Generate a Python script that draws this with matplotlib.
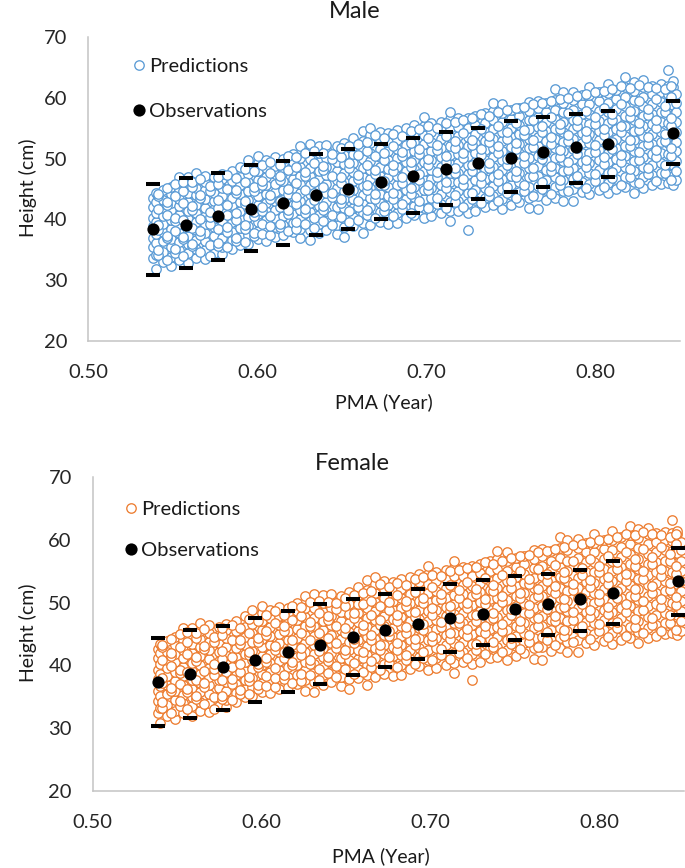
import matplotlib
matplotlib.use("Agg")
import matplotlib.pyplot as plt

plt.rcParams['font.family'] = ['Lato', 'DejaVu Sans']

WEEKS = [28, 29, 30, 31, 32, 33, 34, 35, 36, 37, 38, 39, 40, 41, 42, 44]
obs_x = [w / 52 for w in WEEKS]

male_mean = [38.4, 39.0, 40.6, 41.7, 42.7, 44.0, 45.0, 46.2, 47.2, 48.3, 49.3, 50.1, 51.1, 51.9, 52.4, 54.2]
male_upper = [45.8, 46.8, 47.7, 49.0, 49.6, 50.8, 51.6, 52.4, 53.4, 54.4, 55.1, 56.2, 56.9, 57.4, 57.9, 59.4]
male_lower = [30.9, 32.0, 33.4, 34.8, 35.8, 37.4, 38.5, 40.0, 41.0, 42.4, 43.3, 44.5, 45.3, 46.0, 46.9, 49.1]

female_mean = [37.4, 38.6, 39.7, 40.9, 42.2, 43.2, 44.6, 45.6, 46.6, 47.6, 48.2, 49.0, 49.8, 50.5, 51.6, 53.4]
female_upper = [44.4, 45.6, 46.3, 47.5, 48.6, 49.8, 50.6, 51.4, 52.2, 53.0, 53.6, 54.2, 54.6, 55.2, 56.6, 58.7]
female_lower = [30.3, 31.6, 32.9, 34.2, 35.7, 37.0, 38.5, 39.8, 41.0, 42.2, 43.2, 44.1, 44.9, 45.5, 46.6, 48.0]

col_x = [0.5385, 0.5400, 0.5440, 0.5490, 0.5535, 0.5590, 0.5635, 0.5690, 0.5745, 0.5790, 0.5850, 0.5900,
         0.5945, 0.6005, 0.6050, 0.6105, 0.6155, 0.6210, 0.6255, 0.6310, 0.6365, 0.6410, 0.6470, 0.6515,
         0.6570, 0.6625, 0.6670, 0.6725, 0.6775, 0.6825, 0.6880, 0.6930, 0.6985, 0.7030, 0.7090, 0.7140,
         0.7190, 0.7245, 0.7290, 0.7350, 0.7395, 0.7450, 0.7505, 0.7550, 0.7610, 0.7660, 0.7710, 0.7765,
         0.7810, 0.7870, 0.7920, 0.7965, 0.8025, 0.8075, 0.8125, 0.8180, 0.8230, 0.8285, 0.8335, 0.8390,
         0.8430, 0.8460, 0.8480]

male_col_y = [
    [33.6, 35.4, 37.0, 38.9, 40.3, 42.1, 43.5],
    [31.9, 34.2, 36.1, 37.6, 39.6, 41.1, 42.9, 44.3],
    [33.0, 34.7, 36.4, 37.9, 39.2, 40.6, 41.8, 43.2, 44.8],
    [32.3, 33.8, 35.5, 36.8, 38.5, 39.9, 41.5, 42.7, 44.1, 45.4],
    [33.4, 35.0, 36.3, 37.7, 39.3, 40.7, 42.2, 43.4, 45.0, 47.0],
    [32.9, 34.4, 35.9, 37.2, 38.7, 40.1, 41.3, 42.9, 44.3, 45.8, 46.9],
    [33.7, 35.2, 36.6, 38.2, 39.6, 41.0, 42.4, 44.0, 45.1, 46.4, 47.6],
    [33.5, 34.9, 36.4, 37.8, 39.2, 40.5, 41.9, 43.3, 44.8, 46.1, 47.2],
    [34.5, 36.0, 37.3, 38.7, 40.2, 41.7, 43.0, 44.4, 45.7, 47.0],
    [34.3, 35.4, 36.9, 38.4, 39.8, 41.2, 42.6, 43.9, 45.2, 46.6, 47.5],
    [35.1, 36.6, 38.0, 39.5, 40.8, 42.3, 43.6, 45.0, 46.3, 47.9],
    [35.8, 37.1, 38.6, 40.0, 41.4, 42.8, 44.2, 45.6, 47.0, 48.7],
    [36.0, 37.5, 38.9, 40.4, 41.9, 43.2, 44.7, 46.1, 47.5, 49.8],
    [36.8, 38.1, 39.5, 40.9, 42.4, 43.8, 45.1, 46.5, 47.9, 49.2, 50.4],
    [36.5, 38.4, 39.9, 41.3, 42.7, 44.2, 45.6, 47.0, 48.4, 49.7],
    [37.1, 38.7, 40.2, 41.6, 43.0, 44.5, 45.9, 47.4, 48.8, 50.2],
    [37.5, 39.0, 40.6, 42.0, 43.4, 44.9, 46.3, 47.8, 49.2, 50.0],
    [37.9, 39.4, 40.9, 42.3, 43.8, 45.2, 46.7, 48.1, 49.5, 50.8],
    [36.9, 38.5, 40.1, 41.5, 43.0, 44.4, 45.8, 47.2, 48.6, 50.1, 52.0],
    [36.6, 38.2, 39.8, 41.2, 42.7, 44.1, 45.6, 47.1, 48.5, 50.0, 51.4, 52.4],
    [37.7, 39.3, 40.7, 42.2, 43.6, 45.0, 46.6, 48.0, 49.4, 50.9, 52.1],
    [38.3, 39.9, 41.4, 42.9, 44.4, 45.8, 47.3, 48.7, 50.1, 51.5, 52.3],
    [37.6, 39.1, 40.6, 42.1, 43.5, 45.1, 46.5, 47.9, 49.4, 50.8, 52.0],
    [37.1, 38.8, 40.3, 41.8, 43.3, 44.7, 46.2, 47.6, 49.1, 50.6, 52.6],
    [38.9, 40.4, 41.9, 43.4, 44.9, 46.3, 47.8, 49.3, 50.7, 52.1, 53.4],
    [37.8, 39.4, 41.0, 42.5, 44.0, 45.5, 47.0, 48.5, 50.0, 51.4, 52.9, 54.5],
    [39.0, 40.6, 42.1, 43.6, 45.1, 46.6, 48.1, 49.6, 51.0, 52.5, 53.9, 55.0],
    [39.6, 41.2, 42.7, 44.2, 45.7, 47.2, 48.7, 50.2, 51.6, 53.0, 54.3],
    [39.2, 40.9, 42.4, 43.9, 45.4, 46.9, 48.3, 49.8, 51.2, 52.7, 54.2],
    [39.4, 41.0, 42.6, 44.1, 45.6, 47.1, 48.6, 50.1, 51.6, 53.1, 54.7],
    [40.3, 41.9, 43.4, 44.9, 46.4, 47.9, 49.4, 50.9, 52.3, 53.8, 55.0],
    [40.8, 42.2, 43.7, 45.3, 46.8, 48.3, 49.7, 51.2, 52.7, 54.2, 55.5],
    [40.2, 41.8, 43.3, 44.9, 46.4, 47.9, 49.5, 51.0, 52.4, 53.9, 55.4, 56.8],
    [40.5, 42.1, 43.6, 45.2, 46.7, 48.2, 49.8, 51.3, 52.8, 54.3, 55.8],
    [41.0, 42.6, 44.1, 45.7, 47.2, 48.7, 50.2, 51.7, 53.2, 54.7, 56.1],
    [39.7, 41.3, 42.9, 44.5, 46.1, 47.6, 49.1, 50.6, 52.1, 53.6, 55.1, 56.5, 57.7],
    [41.4, 43.0, 44.6, 46.1, 47.6, 49.2, 50.7, 52.2, 53.7, 55.2, 56.6],
    [38.3, 41.1, 42.7, 44.3, 45.9, 47.4, 49.0, 50.5, 52.0, 53.6, 55.1, 56.7],
    [41.4, 43.2, 44.9, 46.4, 48.0, 49.5, 51.0, 52.6, 54.1, 55.6, 57.0],
    [42.0, 43.6, 45.1, 46.7, 48.3, 49.8, 51.4, 52.9, 54.4, 55.9, 57.5],
    [42.3, 43.9, 45.5, 47.0, 48.6, 50.2, 51.7, 53.2, 54.8, 56.3, 57.9, 59.1],
    [41.7, 43.4, 45.0, 46.6, 48.2, 49.8, 51.3, 52.9, 54.4, 56.0, 57.5, 58.9],
    [42.4, 44.0, 45.6, 47.2, 48.8, 50.4, 51.9, 53.5, 55.0, 56.5, 58.0],
    [42.9, 44.5, 46.1, 47.7, 49.3, 50.9, 52.4, 54.0, 55.5, 57.0, 58.4],
    [41.9, 43.6, 45.3, 46.9, 48.5, 50.1, 51.7, 53.3, 54.8, 56.4, 57.9, 59.3],
    [41.7, 43.8, 45.5, 47.2, 48.8, 50.4, 52.0, 53.6, 55.2, 56.8, 58.3, 59.4],
    [43.2, 44.9, 46.5, 48.1, 49.7, 51.3, 52.9, 54.5, 56.0, 57.6, 59.1],
    [43.6, 45.3, 46.9, 48.5, 50.1, 51.7, 53.3, 54.9, 56.5, 58.0, 59.6, 61.4],
    [43.0, 44.7, 46.4, 48.0, 49.6, 51.2, 52.8, 54.4, 56.0, 57.6, 59.2, 60.9],
    [43.1, 45.0, 46.7, 48.4, 50.0, 51.6, 53.2, 54.8, 56.4, 58.0, 59.6, 61.0],
    [44.5, 46.1, 47.8, 49.4, 51.0, 52.6, 54.2, 55.8, 57.4, 59.0, 60.4],
    [44.2, 45.9, 47.6, 49.2, 50.9, 52.5, 54.1, 55.7, 57.3, 58.9, 60.4, 61.8],
    [44.8, 46.5, 48.2, 49.8, 51.4, 53.0, 54.6, 56.2, 57.8, 59.4, 60.9],
    [44.3, 46.0, 47.7, 49.4, 51.0, 52.7, 54.3, 55.9, 57.6, 59.2, 60.8, 62.3],
    [45.0, 46.7, 48.4, 50.0, 51.7, 53.3, 54.9, 56.5, 58.2, 59.8, 61.3],
    [45.3, 47.0, 48.7, 50.4, 52.0, 53.7, 55.3, 57.0, 58.6, 60.2, 61.7, 63.4],
    [44.4, 46.2, 47.9, 49.6, 51.3, 53.0, 54.6, 56.3, 57.9, 59.6, 61.2, 62.6],
    [45.2, 46.9, 48.6, 50.3, 52.0, 53.7, 55.3, 57.0, 58.6, 60.2, 61.8, 63.0],
    [45.6, 47.3, 49.0, 50.7, 52.4, 54.0, 55.7, 57.3, 59.0, 60.6, 62.0],
    [45.9, 47.6, 49.3, 51.0, 52.7, 54.3, 56.0, 57.6, 59.3, 60.9, 62.2],
    [46.0, 47.4, 49.1, 50.8, 52.5, 54.2, 55.8, 57.5, 59.1, 60.7, 62.0, 64.6],
    [45.7, 47.2, 48.9, 50.6, 52.3, 53.9, 55.6, 57.2, 58.8, 60.4, 61.8, 62.7],
    [46.4, 48.0, 49.6, 51.2, 52.8, 54.4, 56.0, 57.6, 59.2, 60.6],
]

female_col_y = [
    [32.5, 34.3, 36.0, 37.9, 39.3, 41.1, 42.6],
    [30.9, 33.2, 35.1, 36.7, 38.6, 40.2, 41.9, 43.4],
    [32.0, 33.7, 35.4, 36.9, 38.3, 39.6, 40.9, 42.2, 43.9],
    [31.4, 32.8, 34.5, 35.9, 37.5, 39.0, 40.5, 41.8, 43.2, 44.5],
    [32.4, 34.0, 35.3, 36.8, 38.3, 39.8, 41.2, 42.5, 44.1, 45.9],
    [31.9, 33.5, 34.9, 36.3, 37.7, 39.1, 40.4, 41.9, 43.4, 44.8, 46.0],
    [32.8, 34.2, 35.7, 37.2, 38.7, 40.0, 41.5, 43.0, 44.2, 45.5, 46.7],
    [32.6, 34.0, 35.4, 36.9, 38.2, 39.6, 41.0, 42.4, 43.8, 45.2, 46.4],
    [33.5, 35.1, 36.4, 37.7, 39.3, 40.7, 42.1, 43.5, 44.8, 46.1],
    [33.4, 34.5, 36.0, 37.4, 38.9, 40.3, 41.6, 43.0, 44.3, 45.6, 46.6],
    [34.2, 35.6, 37.1, 38.5, 39.9, 41.4, 42.7, 44.1, 45.4, 47.0],
    [34.9, 36.2, 37.6, 39.1, 40.5, 41.8, 43.3, 44.6, 46.1, 47.8],
    [35.1, 36.6, 38.0, 39.5, 40.9, 42.3, 43.8, 45.2, 46.6, 48.9],
    [35.8, 37.2, 38.6, 40.0, 41.5, 42.9, 44.2, 45.6, 47.0, 48.3, 49.5],
    [35.6, 37.4, 39.0, 40.4, 41.8, 43.3, 44.7, 46.1, 47.5, 48.8],
    [36.2, 37.8, 39.3, 40.7, 42.1, 43.6, 45.0, 46.5, 47.9, 49.3],
    [36.6, 38.1, 39.7, 41.1, 42.5, 44.0, 45.4, 46.9, 48.3, 49.1],
    [37.0, 38.5, 40.0, 41.4, 42.9, 44.3, 45.8, 47.2, 48.6, 49.9],
    [36.0, 37.6, 39.2, 40.6, 42.1, 43.5, 44.9, 46.3, 47.7, 49.2, 51.1],
    [35.7, 37.3, 38.9, 40.3, 41.8, 43.2, 44.7, 46.2, 47.6, 49.1, 50.5, 51.4],
    [36.8, 38.4, 39.8, 41.3, 42.7, 44.1, 45.7, 47.1, 48.5, 50.0, 51.2],
    [37.4, 39.0, 40.5, 42.0, 43.5, 44.9, 46.4, 47.8, 49.2, 50.6, 51.4],
    [36.7, 38.2, 39.7, 41.2, 42.6, 44.2, 45.6, 47.0, 48.5, 49.9, 51.1],
    [36.2, 37.9, 39.4, 40.9, 42.4, 43.8, 45.3, 46.7, 48.2, 49.7, 51.7],
    [38.0, 39.5, 41.0, 42.5, 44.0, 45.4, 46.9, 48.4, 49.8, 51.2, 52.5],
    [36.9, 38.5, 40.1, 41.6, 43.1, 44.6, 46.1, 47.6, 49.1, 50.5, 52.0, 53.6],
    [38.1, 39.7, 41.2, 42.7, 44.2, 45.7, 47.2, 48.7, 50.1, 51.6, 53.0, 54.0],
    [38.7, 40.3, 41.8, 43.3, 44.8, 46.3, 47.8, 49.3, 50.7, 52.1, 53.4],
    [38.3, 40.0, 41.5, 43.0, 44.5, 46.0, 47.4, 48.9, 50.3, 51.8, 53.3],
    [38.5, 40.1, 41.7, 43.2, 44.7, 46.2, 47.7, 49.2, 50.7, 52.2, 53.8],
    [39.4, 41.0, 42.5, 44.0, 45.5, 47.0, 48.5, 50.0, 51.4, 52.9, 54.1],
    [39.9, 41.3, 42.8, 44.4, 45.9, 47.4, 48.8, 50.3, 51.8, 53.3, 54.6],
    [39.3, 40.9, 42.4, 44.0, 45.5, 47.0, 48.6, 50.1, 51.5, 53.0, 54.5, 55.9],
    [39.6, 41.2, 42.7, 44.3, 45.8, 47.3, 48.9, 50.4, 51.9, 53.4, 54.9],
    [40.1, 41.7, 43.2, 44.8, 46.3, 47.8, 49.3, 50.8, 52.3, 53.8, 55.2],
    [38.8, 40.4, 42.0, 43.6, 45.2, 46.7, 48.2, 49.7, 51.2, 52.7, 54.2, 55.6, 56.7],
    [40.5, 42.1, 43.7, 45.2, 46.7, 48.3, 49.8, 51.3, 52.8, 54.3, 55.6],
    [37.7, 40.2, 41.8, 43.4, 45.0, 46.5, 48.1, 49.6, 51.1, 52.7, 54.2, 55.8],
    [40.5, 42.3, 44.0, 45.5, 47.1, 48.6, 50.1, 51.7, 53.2, 54.7, 56.1],
    [41.1, 42.7, 44.2, 45.8, 47.4, 48.9, 50.5, 52.0, 53.5, 55.0, 56.6],
    [41.4, 43.0, 44.6, 46.1, 47.7, 49.3, 50.8, 52.3, 53.9, 55.4, 57.0, 58.2],
    [40.8, 42.5, 44.1, 45.7, 47.3, 48.9, 50.4, 52.0, 53.5, 55.1, 56.6, 58.0],
    [41.5, 43.1, 44.7, 46.3, 47.9, 49.5, 51.0, 52.6, 54.1, 55.6, 57.1],
    [42.0, 43.6, 45.2, 46.8, 48.4, 50.0, 51.5, 53.1, 54.6, 56.1, 57.5],
    [41.0, 42.7, 44.4, 46.0, 47.6, 49.2, 50.8, 52.4, 53.9, 55.5, 57.0, 58.4],
    [40.8, 42.9, 44.6, 46.3, 47.9, 49.5, 51.1, 52.7, 54.3, 55.9, 57.4, 58.5],
    [42.3, 44.0, 45.6, 47.2, 48.8, 50.4, 52.0, 53.6, 55.1, 56.7, 58.2],
    [42.7, 44.4, 46.0, 47.6, 49.2, 50.8, 52.4, 54.0, 55.6, 57.1, 58.7, 60.5],
    [42.1, 43.8, 45.5, 47.1, 48.7, 50.3, 51.9, 53.5, 55.1, 56.7, 58.3, 60.0],
    [42.2, 44.1, 45.8, 47.5, 49.1, 50.7, 52.3, 53.9, 55.5, 57.1, 58.7, 60.1],
    [43.6, 45.2, 46.9, 48.5, 50.1, 51.7, 53.3, 54.9, 56.5, 58.1, 59.5],
    [43.3, 45.0, 46.7, 48.3, 50.0, 51.6, 53.2, 54.8, 56.4, 58.0, 59.5, 60.9],
    [43.9, 45.6, 47.3, 48.9, 50.5, 52.1, 53.7, 55.3, 56.9, 58.5, 60.0],
    [43.4, 45.1, 46.8, 48.5, 50.1, 51.8, 53.4, 55.0, 56.7, 58.3, 59.9, 61.4],
    [44.1, 45.8, 47.5, 49.1, 50.8, 52.4, 54.0, 55.6, 57.3, 58.9, 60.4],
    [44.4, 46.1, 47.8, 49.5, 51.1, 52.8, 54.4, 56.1, 57.7, 59.3, 60.8, 62.2],
    [43.5, 45.3, 47.0, 48.7, 50.4, 52.1, 53.7, 55.4, 57.0, 58.7, 60.3, 61.7],
    [44.3, 46.0, 47.7, 49.4, 51.1, 52.8, 54.4, 56.1, 57.7, 59.3, 60.9, 61.8],
    [44.7, 46.4, 48.1, 49.8, 51.5, 53.1, 54.8, 56.4, 58.1, 59.7, 61.1],
    [45.0, 46.7, 48.4, 50.1, 51.8, 53.4, 55.1, 56.7, 58.4, 60.0, 61.3],
    [45.1, 46.5, 48.2, 49.9, 51.6, 53.3, 54.9, 56.6, 58.2, 59.8, 61.1, 63.2],
    [44.8, 46.3, 48.0, 49.7, 51.4, 53.0, 54.7, 56.3, 57.9, 59.5, 60.9, 61.4],
    [45.5, 47.1, 48.7, 50.3, 51.9, 53.5, 55.1, 56.7, 58.3, 59.7],
]

# second, looser layer of predicted points read from between the columns above
col2_x = [0.5412, 0.5465, 0.5515, 0.5560, 0.5612, 0.5660, 0.5718, 0.5768, 0.5822, 0.5873, 0.5925, 0.5980,
          0.6028, 0.6078, 0.6133, 0.6182, 0.6232, 0.6285, 0.6338, 0.6390, 0.6442, 0.6495, 0.6545, 0.6598,
          0.6648, 0.6700, 0.6752, 0.6803, 0.6855, 0.6908, 0.6958, 0.7010, 0.7062, 0.7115, 0.7168, 0.7218,
          0.7270, 0.7322, 0.7372, 0.7425, 0.7478, 0.7530, 0.7582, 0.7635, 0.7688, 0.7738, 0.7790, 0.7842,
          0.7895, 0.7945, 0.7998, 0.8052, 0.8102, 0.8155, 0.8208, 0.8258, 0.8312, 0.8362, 0.8415, 0.8450]

male_col2_y = [
    [34.1, 35.0, 38.2, 39.0, 41.7, 43.9, 44.2], [33.4, 36.9, 37.3, 40.8, 42.4, 42.9, 45.1],
    [34.4, 35.2, 38.1, 39.7, 40.2, 43.8, 45.9], [33.9, 36.7, 37.1, 39.9, 42.7, 44.6, 46.2],
    [35.6, 36.0, 38.6, 41.6, 42.2, 45.3, 46.1], [34.7, 37.5, 38.1, 40.0, 43.5, 44.0, 46.7],
    [34.0, 35.8, 39.3, 40.4, 41.2, 44.6, 45.5], [35.6, 36.1, 38.5, 41.9, 43.2, 45.8, 46.9],
    [35.4, 37.9, 38.8, 40.7, 42.3, 45.0, 47.3], [36.4, 37.0, 39.9, 41.1, 44.3, 44.9, 46.8],
    [36.3, 38.4, 39.1, 42.5, 43.1, 46.1, 48.3], [37.2, 37.8, 40.6, 41.2, 44.7, 45.3, 48.0],
    [37.6, 39.2, 41.4, 42.1, 45.7, 46.3, 48.9], [37.4, 38.9, 40.5, 43.4, 44.0, 47.6, 49.5],
    [38.7, 39.3, 42.1, 43.0, 46.4, 47.1, 49.0], [38.1, 40.9, 41.5, 44.2, 45.0, 48.1, 50.4],
    [38.4, 39.6, 42.6, 43.7, 46.0, 48.7, 50.2], [39.3, 41.1, 41.7, 44.9, 47.2, 47.8, 51.0],
    [38.6, 40.3, 43.2, 44.4, 46.1, 49.3, 51.2], [39.7, 41.6, 42.2, 45.3, 48.1, 48.8, 51.0],
    [39.1, 40.8, 43.7, 44.4, 47.1, 49.9, 50.8], [40.4, 42.7, 43.3, 46.0, 46.9, 50.3, 51.7],
    [39.5, 41.3, 44.5, 45.1, 48.5, 49.2, 52.1], [39.9, 42.0, 43.1, 46.6, 47.3, 50.6, 52.4],
    [40.7, 41.6, 44.9, 45.7, 48.9, 51.2, 52.8], [40.2, 43.3, 44.1, 47.4, 48.1, 50.4, 53.8],
    [41.3, 42.2, 45.6, 46.3, 49.7, 51.0, 53.4], [40.6, 43.4, 44.4, 47.9, 49.0, 52.1, 54.0],
    [41.7, 42.6, 46.0, 47.0, 50.4, 51.1, 53.7], [41.1, 44.2, 45.1, 48.6, 49.4, 52.6, 54.6],
    [42.0, 43.1, 46.5, 47.5, 50.8, 51.6, 54.9], [41.8, 44.8, 45.6, 49.0, 50.0, 53.4, 55.3],
    [42.6, 43.5, 47.0, 47.8, 51.4, 52.2, 55.1], [41.9, 45.1, 46.1, 49.5, 50.4, 53.7, 55.9],
    [42.9, 44.0, 47.6, 48.4, 51.7, 52.9, 56.1], [42.1, 45.6, 46.7, 50.1, 50.9, 54.2, 56.4],
    [43.4, 44.3, 48.0, 49.0, 52.3, 53.1, 56.6], [42.7, 46.0, 47.1, 50.6, 51.5, 54.8, 57.3],
    [43.9, 44.7, 48.4, 49.3, 52.8, 53.7, 57.0], [43.1, 46.3, 47.5, 51.0, 52.0, 55.3, 57.6],
    [44.3, 45.3, 48.9, 49.9, 53.2, 54.3, 58.0], [43.5, 46.9, 47.9, 51.6, 52.5, 55.9, 58.3],
    [44.6, 45.7, 49.3, 50.5, 53.8, 54.7, 58.5], [43.9, 47.2, 48.4, 51.9, 53.0, 56.3, 58.9],
    [45.0, 46.2, 49.9, 50.8, 54.3, 55.4, 59.1], [44.2, 47.9, 48.8, 52.4, 53.6, 56.9, 59.4],
    [45.6, 46.5, 50.2, 51.4, 54.8, 55.7, 59.8], [44.6, 48.2, 49.4, 52.9, 53.9, 57.5, 60.0],
    [46.0, 47.1, 50.7, 51.7, 55.3, 56.4, 60.3], [45.1, 48.6, 49.7, 53.4, 54.5, 57.9, 60.6],
    [46.3, 47.5, 51.1, 52.3, 55.7, 56.8, 60.9], [45.4, 49.1, 50.2, 53.8, 54.9, 58.4, 61.1],
    [46.8, 47.8, 51.6, 52.7, 56.3, 57.4, 61.4], [45.6, 49.4, 50.6, 54.3, 55.4, 58.9, 61.9],
    [47.0, 48.3, 52.0, 53.1, 56.8, 57.9, 61.6], [46.0, 49.8, 51.1, 54.7, 55.9, 59.5, 62.1],
    [47.4, 48.5, 52.4, 53.6, 57.1, 58.2, 61.8], [46.3, 50.2, 51.4, 55.1, 56.3, 59.8, 61.6],
    [47.6, 48.9, 52.9, 54.0, 57.6, 58.7, 61.4], [46.5, 50.5, 51.8, 55.4, 56.7, 60.2, 61.9],
]

female_col2_y = [
    [33.2, 34.1, 37.2, 38.0, 40.8, 42.9, 43.3], [32.5, 36.0, 36.4, 39.9, 41.5, 42.0, 44.2],
    [33.5, 34.3, 37.1, 38.8, 39.3, 42.9, 45.0], [33.0, 35.8, 36.2, 39.0, 41.8, 43.7, 45.3],
    [34.7, 35.1, 37.7, 40.7, 41.3, 44.4, 45.2], [33.8, 36.6, 37.2, 39.1, 42.6, 43.1, 45.8],
    [33.1, 34.9, 38.4, 39.5, 40.3, 43.7, 44.6], [34.7, 35.2, 37.6, 41.0, 42.3, 44.9, 46.0],
    [34.5, 37.0, 37.9, 39.8, 41.4, 44.1, 46.4], [35.5, 36.1, 39.0, 40.2, 43.4, 44.0, 45.9],
    [35.4, 37.5, 38.2, 41.6, 42.2, 45.2, 47.4], [36.3, 36.9, 39.7, 40.3, 43.8, 44.4, 47.1],
    [36.7, 38.3, 40.5, 41.2, 44.8, 45.4, 48.0], [36.5, 38.0, 39.6, 42.5, 43.1, 46.7, 48.6],
    [37.8, 38.4, 41.2, 42.1, 45.5, 46.2, 48.1], [37.2, 40.0, 40.6, 43.3, 44.1, 47.2, 49.5],
    [37.5, 38.7, 41.7, 42.8, 45.1, 47.8, 49.3], [38.4, 40.2, 40.8, 44.0, 46.3, 46.9, 50.1],
    [37.7, 39.4, 42.3, 43.5, 45.2, 48.4, 50.3], [38.8, 40.7, 41.3, 44.4, 47.2, 47.9, 50.1],
    [38.2, 39.9, 42.8, 43.5, 46.2, 49.0, 49.9], [39.5, 41.8, 42.4, 45.1, 46.0, 49.4, 50.8],
    [38.6, 40.4, 43.6, 44.2, 47.6, 48.3, 51.2], [39.0, 41.1, 42.2, 45.7, 46.4, 49.7, 51.5],
    [39.8, 40.7, 44.0, 44.8, 48.0, 50.3, 51.9], [39.3, 42.4, 43.2, 46.5, 47.2, 49.5, 52.9],
    [40.4, 41.3, 44.7, 45.4, 48.8, 50.1, 52.5], [39.7, 42.5, 43.5, 47.0, 48.1, 51.2, 53.1],
    [40.8, 41.7, 45.1, 46.1, 49.5, 50.2, 52.8], [40.2, 43.3, 44.2, 47.7, 48.5, 51.7, 53.7],
    [41.1, 42.2, 45.6, 46.6, 49.9, 50.7, 54.0], [40.9, 43.9, 44.7, 48.1, 49.1, 52.5, 54.4],
    [41.7, 42.6, 46.1, 46.9, 50.5, 51.3, 54.2], [41.0, 44.2, 45.2, 48.6, 49.5, 52.8, 55.0],
    [42.0, 43.1, 46.7, 47.5, 50.8, 52.0, 55.2], [41.2, 44.7, 45.8, 49.2, 50.0, 53.3, 55.5],
    [42.5, 43.4, 47.1, 48.1, 51.4, 52.2, 55.7], [41.8, 45.1, 46.2, 49.7, 50.6, 53.9, 56.4],
    [43.0, 43.8, 47.5, 48.4, 51.9, 52.8, 56.1], [42.2, 45.4, 46.6, 50.1, 51.1, 54.4, 56.7],
    [43.4, 44.4, 48.0, 49.0, 52.3, 53.4, 57.1], [42.6, 46.0, 47.0, 50.7, 51.6, 55.0, 57.4],
    [43.7, 44.8, 48.4, 49.6, 52.9, 53.8, 57.6], [43.0, 46.3, 47.5, 51.0, 52.1, 55.4, 58.0],
    [44.1, 45.3, 49.0, 49.9, 53.4, 54.5, 58.2], [43.3, 47.0, 47.9, 51.5, 52.7, 56.0, 58.5],
    [44.7, 45.6, 49.3, 50.5, 53.9, 54.8, 58.9], [43.7, 47.3, 48.5, 52.0, 53.0, 56.6, 59.1],
    [45.1, 46.2, 49.8, 50.8, 54.4, 55.5, 59.4], [44.2, 47.7, 48.8, 52.5, 53.6, 57.0, 59.7],
    [45.4, 46.6, 50.2, 51.4, 54.8, 55.9, 60.0], [44.5, 48.2, 49.3, 52.9, 54.0, 57.5, 60.2],
    [45.9, 46.9, 50.7, 51.8, 55.4, 56.5, 60.5], [44.7, 48.5, 49.7, 53.4, 54.5, 58.0, 61.0],
    [46.1, 47.4, 51.1, 52.2, 55.9, 57.0, 60.7], [45.1, 48.9, 50.2, 53.8, 55.0, 58.6, 61.2],
    [46.5, 47.6, 51.5, 52.7, 56.2, 57.3, 60.9], [45.4, 49.3, 50.5, 54.2, 55.4, 58.9, 60.7],
    [46.7, 48.0, 52.0, 53.1, 56.7, 57.8, 60.5], [45.6, 49.6, 50.9, 54.5, 55.8, 59.3, 61.0],
]

x_ticks = [0.50, 0.60, 0.70, 0.80]
y_ticks = [20, 30, 40, 50, 60, 70]
W, H = 685, 868
FS = 14.5


def panel(box, title, title_xy, col_y, col2_y, color, mean, upper, lower, leg_anchor, leg_space,
          xlabel_xy, ylabel_y):
    l, t, r, b = box
    ax = fig.add_axes([l / W, 1 - b / H, (r - l) / W, (b - t) / H])
    xs = [x for x, ys in zip(col_x, col_y) for _ in ys]
    ys = [y for c in col_y for y in c]
    xs2 = [x for x, ys2 in zip(col2_x, col2_y) for _ in ys2]
    ys2 = [y for c in col2_y for y in c]
    ax.plot(xs, ys, 'o', ms=6.8, mfc='white', mec=color, mew=0.95, label='Predictions',
            clip_on=False, zorder=2)
    ax.plot(xs2, ys2, 'o', ms=6.8, mfc='white', mec=color, mew=0.95, clip_on=False, zorder=2)
    ax.plot(obs_x, upper, '_', ms=9.5, mec='black', mew=2.9, clip_on=False, zorder=3)
    ax.plot(obs_x, lower, '_', ms=9.5, mec='black', mew=2.9, clip_on=False, zorder=3)
    ax.plot(obs_x, mean, 'o', ms=8.8, mfc='black', mec='black', mew=0, label='Observations',
            clip_on=False, zorder=4)
    ax.set_xlim(0.5, 0.85)
    ax.set_ylim(20, 70)
    ax.set_xticks(x_ticks, [f'{v:.2f}' for v in x_ticks])
    ax.set_yticks(y_ticks)
    ax.tick_params(length=0, labelsize=FS, colors='#262626')
    ax.tick_params(axis='x', pad=16.5)
    ax.tick_params(axis='y', pad=15)
    for s in ('top', 'right'):
        ax.spines[s].set_visible(False)
    for s in ('left', 'bottom'):
        ax.spines[s].set_color('#C4C4C4')
        ax.spines[s].set_linewidth(1.1)
    fig.text(title_xy[0] / W, 1 - title_xy[1] / H, title, ha='center', va='center', fontsize=17, color='#1a1a1a')
    fig.text(xlabel_xy[0] / W, 1 - xlabel_xy[1] / H, 'PMA (Year)', ha='center', va='center', fontsize=14, color='#1a1a1a')
    fig.text(28 / W, 1 - ylabel_y / H, 'Height (cm)', rotation=90, ha='center', va='center', fontsize=14, color='#1a1a1a')
    leg = ax.legend(loc='upper left', bbox_to_anchor=(leg_anchor[0] / W, 1 - leg_anchor[1] / H),
                    bbox_transform=fig.transFigure, frameon=False, fontsize=FS, labelspacing=leg_space,
                    handletextpad=-0.1, borderpad=0, borderaxespad=0, numpoints=1, handlelength=1.2)
    for txt in leg.get_texts():
        txt.set_color('#1a1a1a')
    return ax


fig = plt.figure(figsize=(W / 100, H / 100), dpi=100, facecolor='white')
panel((88.3, 37, 679.5, 341), 'Male', (354.5, 11), male_col_y, male_col2_y, '#5B9BD5',
      male_mean, male_upper, male_lower, (127, 58), 1.4, (384, 402), 188)
panel((92.7, 477, 684, 791), 'Female', (352.5, 464), female_col_y, female_col2_y, '#ED7D31',
      female_mean, female_upper, female_lower, (119, 501), 1.2, (380.5, 856), 633)
fig.savefig('out.png', dpi=100)
